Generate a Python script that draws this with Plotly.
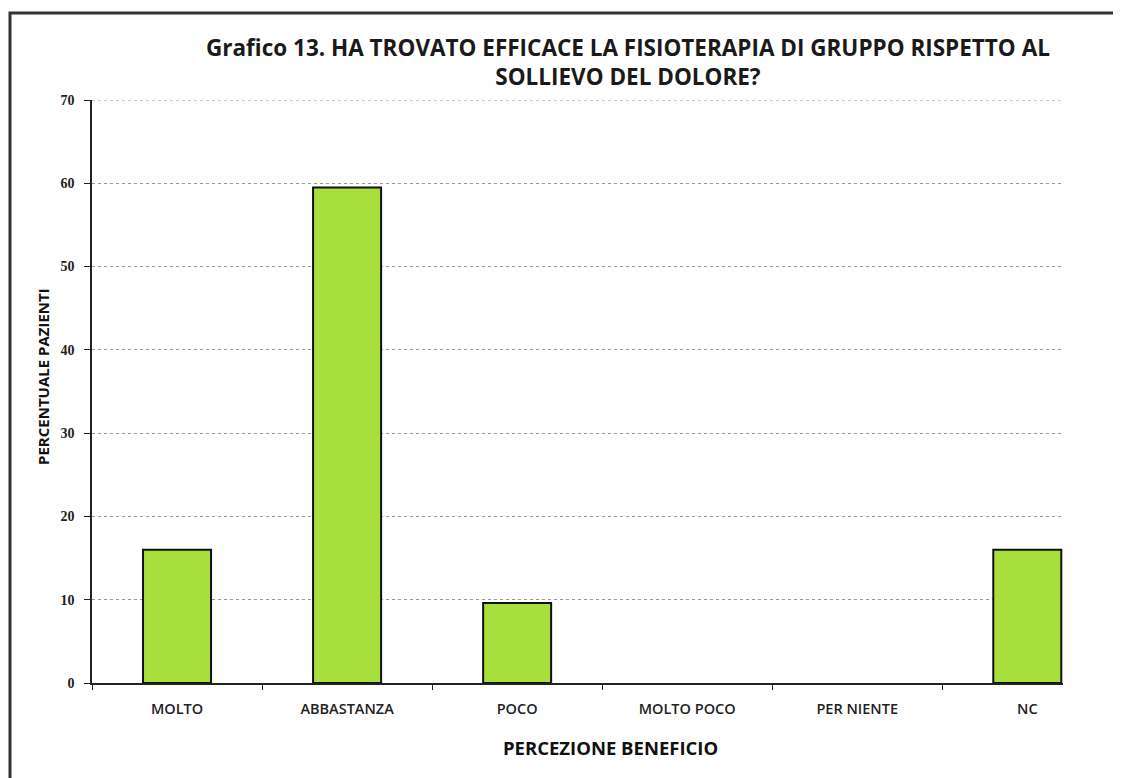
import plotly.graph_objects as go

categories = ["MOLTO", "ABBASTANZA", "POCO", "MOLTO POCO", "PER NIENTE", "NC"]
values = [16.0, 59.5, 9.6, 0, 0, 16.0]
y_ticks = [0, 10, 20, 30, 40, 50, 60, 70]

# page offset (browser body margin)
OFF = 8
W, H = 1121, 778
# plot area in page pixels
Lp, Rp, Tp, Bp = 92, 1063, 100, 683
pw, ph = Rp - Lp, Bp - Tp


def px(x):
    return (x - Lp) / pw


def py(y):
    return (Bp - y) / ph


fig = go.Figure()
fig.add_trace(go.Bar(
    x=categories, y=values, width=0.4,
    marker=dict(color="#a8df3c",
                line=dict(color="#111111", width=[2 if v > 0 else 0 for v in values])),
    hoverinfo="x+y",
))

fig.update_layout(
    width=W, height=H,
    margin=dict(l=Lp - OFF, r=W - (Rp - OFF), t=Tp - OFF, b=H - (Bp - OFF)),
    paper_bgcolor="white", plot_bgcolor="white",
    showlegend=False,
    font=dict(family="Open Sans", color="#222"),
    xaxis=dict(
        type="category", range=[-0.5, 5.21],
        showline=True, linecolor="#222", linewidth=1.5,
        ticks="outside", tickson="boundaries", ticklen=5, tickcolor="#222",
        ticklabelstandoff=12,
        tickfont=dict(family="Open Sans", size=14.5, color="#222", weight=600),
        showgrid=False,
    ),
    yaxis=dict(
        range=[0, 70], tickvals=y_ticks,
        showline=True, linecolor="#222", linewidth=1.5,
        ticks="outside", ticklen=6, tickcolor="#222",
        ticklabelstandoff=7,
        tickfont=dict(family="Liberation Serif", size=14, color="#222", weight="bold"),
        showgrid=True, gridcolor="#9a9a9a", gridwidth=1, griddash="dot",
        zeroline=False,
    ),
    annotations=[
        dict(text="Grafico 13. HA TROVATO EFFICACE LA FISIOTERAPIA DI GRUPPO RISPETTO AL<br>SOLLIEVO DEL DOLORE?",
             xref="paper", yref="paper", x=px(628), y=py(62), xanchor="center", yanchor="middle",
             showarrow=False, align="center",
             font=dict(family="Open Sans", size=22.5, color="#1a1a1a", weight="bold")),
        dict(text="PERCENTUALE PAZIENTI", textangle=-90,
             xref="paper", yref="paper", x=px(43), y=py(377), xanchor="center", yanchor="middle",
             showarrow=False,
             font=dict(family="Open Sans", size=15, color="#111", weight="bold")),
        dict(text="PERCEZIONE BENEFICIO",
             xref="paper", yref="paper", x=px(610), y=py(747), xanchor="center", yanchor="middle",
             showarrow=False,
             font=dict(family="Open Sans", size=18.5, color="#111", weight="bold")),
    ],
)

# top gridline (at the top of the range)
fig.add_shape(
    type="line", xref="paper", yref="y", x0=0, x1=1, y0=y_ticks[-1], y1=y_ticks[-1],
    line=dict(color="#9a9a9a", width=1, dash="dot"), layer="below",
)

# outer chart border
fig.add_shape(
    type="rect", xref="paper", yref="paper",
    x0=px(10), x1=px(1135), y0=py(795), y1=py(13),
    line=dict(color="#333", width=3), fillcolor="rgba(0,0,0,0)", layer="above",
)

fig.write_html("out.html")
